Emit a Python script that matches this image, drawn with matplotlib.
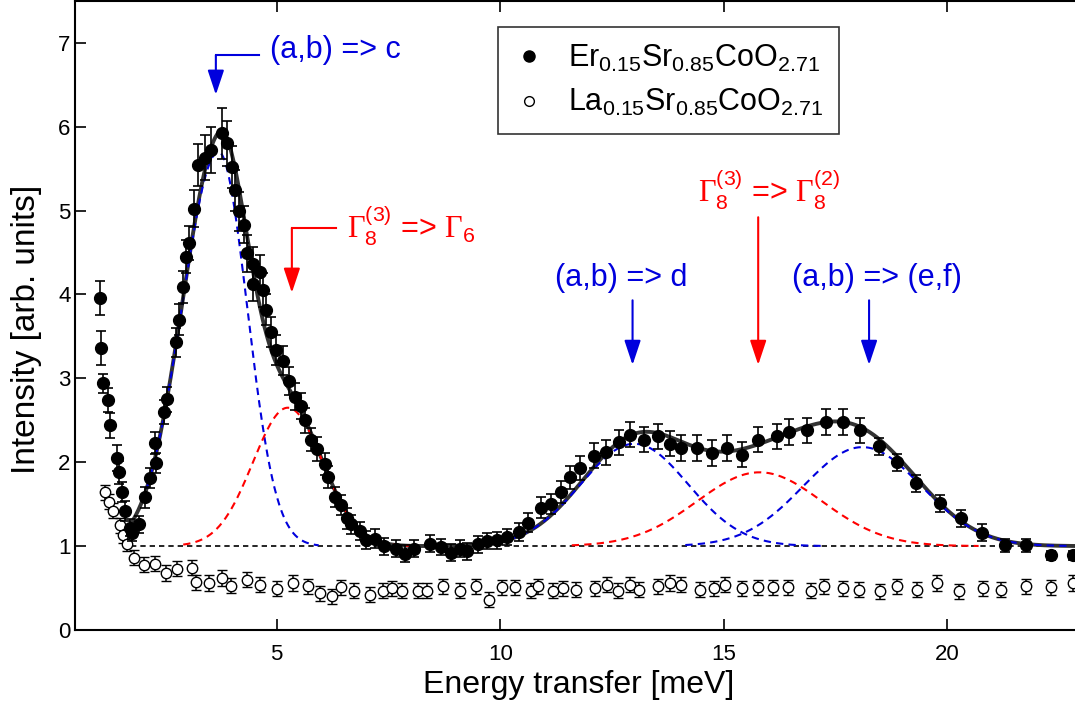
import numpy as np
import matplotlib
matplotlib.use("Agg")
import matplotlib.pyplot as plt
from matplotlib.lines import Line2D

plt.rcParams.update({
    'font.family': ['Liberation Sans', 'DejaVu Sans'],
    'mathtext.fontset': 'custom',
    'mathtext.rm': 'Liberation Serif',
    'mathtext.it': 'Liberation Serif:italic',
    'mathtext.bf': 'Liberation Serif:bold',
    'mathtext.sf': 'Liberation Sans',
})

# Er0.15Sr0.85CoO2.71 (filled symbols)
er_E = [1.05, 1.08, 1.12, 1.22, 1.27, 1.42, 1.48, 1.53, 1.61, 1.72, 1.76, 1.93,
        2.05, 2.16, 2.28, 2.31, 2.48, 2.55, 2.75, 2.81, 2.90, 2.98, 3.05, 3.14,
        3.25, 3.40, 3.53, 3.78, 3.88, 4.00, 4.06, 4.16, 4.26, 4.33, 4.47, 4.48,
        4.63, 4.69, 4.77, 4.87, 4.99, 5.15, 5.27, 5.41, 5.55, 5.64, 5.77, 5.90,
        6.08, 6.14, 6.30, 6.45, 6.58, 6.67, 6.87, 7.00, 7.21, 7.41, 7.67, 7.87,
        8.08, 8.42, 8.68, 8.90, 9.11, 9.26, 9.50, 9.70, 9.93, 10.15, 10.43, 10.63,
        10.91, 11.13, 11.37, 11.57, 11.79, 12.10, 12.36, 12.66, 12.91, 13.21, 13.53, 13.79,
        14.05, 14.40, 14.74, 15.08, 15.40, 15.77, 16.18, 16.46, 16.87, 17.29, 17.67, 18.05,
        18.48, 18.88, 19.29, 19.84, 20.31, 20.78, 21.30, 21.76, 22.32, 22.81]
er_I = [3.96, 3.36, 2.94, 2.74, 2.44, 2.05, 1.88, 1.65, 1.42, 1.22, 1.16, 1.26,
        1.58, 1.81, 2.23, 1.99, 2.60, 2.75, 3.43, 3.70, 4.09, 4.45, 4.61, 5.02,
        5.54, 5.63, 5.72, 5.92, 5.80, 5.52, 5.24, 4.99, 4.83, 4.49, 4.13, 4.36,
        4.27, 4.05, 3.82, 3.55, 3.34, 3.21, 2.97, 2.78, 2.67, 2.50, 2.27, 2.16,
        1.98, 1.82, 1.59, 1.49, 1.33, 1.26, 1.18, 1.07, 1.09, 1.00, 0.97, 0.91,
        0.97, 1.03, 0.99, 0.92, 0.97, 0.94, 1.02, 1.06, 1.07, 1.11, 1.17, 1.28,
        1.46, 1.50, 1.65, 1.82, 1.93, 2.08, 2.12, 2.24, 2.33, 2.27, 2.31, 2.22,
        2.17, 2.17, 2.11, 2.17, 2.09, 2.27, 2.31, 2.36, 2.38, 2.48, 2.48, 2.38,
        2.19, 2.00, 1.75, 1.51, 1.33, 1.16, 1.01, 1.01, 0.89, 0.89]
er_err = [0.20, 0.20, 0.11, 0.14, 0.15, 0.15, 0.14, 0.12, 0.12, 0.10, 0.10, 0.10,
          0.12, 0.12, 0.13, 0.12, 0.14, 0.15, 0.17, 0.18, 0.19, 0.20, 0.20, 0.22,
          0.25, 0.27, 0.27, 0.30, 0.27, 0.25, 0.24, 0.23, 0.22, 0.22, 0.21, 0.21,
          0.20, 0.20, 0.19, 0.18, 0.18, 0.17, 0.17, 0.16, 0.16, 0.15, 0.14, 0.14,
          0.13, 0.13, 0.12, 0.12, 0.12, 0.11, 0.11, 0.11, 0.11, 0.10, 0.10, 0.10,
          0.10, 0.10, 0.10, 0.10, 0.10, 0.10, 0.10, 0.10, 0.10, 0.10, 0.11, 0.11,
          0.12, 0.12, 0.13, 0.14, 0.14, 0.15, 0.15, 0.15, 0.15, 0.15, 0.15, 0.15,
          0.15, 0.15, 0.15, 0.15, 0.15, 0.15, 0.15, 0.15, 0.15, 0.15, 0.15, 0.15,
          0.10, 0.10, 0.10, 0.10, 0.10, 0.10, 0.08, 0.08, 0.05, 0.05]

# La0.15Sr0.85CoO2.71 (open symbols)
la_E = [1.16, 1.25, 1.35, 1.49, 1.57, 1.66, 1.80, 2.04, 2.28, 2.52, 2.76, 3.10,
        3.19, 3.49, 3.78, 3.98, 4.34, 4.63, 5.01, 5.36, 5.69, 5.96, 6.23, 6.43,
        6.72, 7.09, 7.37, 7.58, 7.80, 8.16, 8.37, 8.72, 9.11, 9.46, 9.76, 10.05,
        10.32, 10.68, 10.84, 11.17, 11.40, 11.70, 12.11, 12.38, 12.64, 12.91, 13.11, 13.53,
        13.79, 14.05, 14.46, 14.78, 15.02, 15.40, 15.77, 16.11, 16.44, 16.95, 17.24, 17.67,
        18.02, 18.50, 18.87, 19.33, 19.76, 20.26, 20.79, 21.20, 21.76, 22.32, 22.81]
la_I = [1.64, 1.53, 1.42, 1.25, 1.13, 1.03, 0.86, 0.78, 0.79, 0.68, 0.73, 0.74,
        0.57, 0.56, 0.62, 0.53, 0.60, 0.54, 0.49, 0.56, 0.52, 0.44, 0.40, 0.51,
        0.47, 0.42, 0.47, 0.50, 0.47, 0.47, 0.47, 0.52, 0.47, 0.52, 0.36, 0.51,
        0.51, 0.47, 0.52, 0.47, 0.50, 0.48, 0.50, 0.54, 0.47, 0.54, 0.48, 0.52,
        0.56, 0.54, 0.48, 0.50, 0.54, 0.50, 0.51, 0.51, 0.51, 0.47, 0.52, 0.50,
        0.48, 0.46, 0.52, 0.48, 0.56, 0.46, 0.50, 0.48, 0.52, 0.51, 0.56]
la_err = 0.09

# fit: flat background + peaks (center, amplitude, left/right width)
background = 1.0
peak_center = [3.70, 5.25, 13.0, 15.8, 18.1]
peak_amp = [4.70, 1.65, 1.22, 0.88, 1.18]
peak_wl = [0.82, 0.78, 1.20, 1.40, 1.32]
peak_wr = [0.64, 0.78, 1.20, 1.40, 1.32]
peak_color = ['#0000dd', '#ff0000', '#0000dd', '#ff0000', '#0000dd']
fit_start, fit_end = 1.75, 23.0


def peak(x, c, a, wl, wr):
    w = np.where(x < c, wl, wr)
    return a * np.exp(-(x - c) ** 2 / (2 * w ** 2))


def main():
    fig = plt.figure(figsize=(10.75, 7.06), dpi=100)
    ax = fig.add_axes([0.0702, 0.1076, 0.9358, 0.8913])

    x = np.linspace(fit_start, fit_end, 800)
    total = np.full_like(x, background)
    for c, a, wl, wr in zip(peak_center, peak_amp, peak_wl, peak_wr):
        total += peak(x, c, a, wl, wr)

    ax.plot([fit_start, fit_end], [background, background], color='k',
            lw=1.2, ls=(0, (3.2, 2.4)), zorder=1)
    ax.plot(x, total, color='#333333', lw=2.8, zorder=2)

    for c, a, wl, wr, col in zip(peak_center, peak_amp, peak_wl, peak_wr, peak_color):
        xs = np.linspace(max(c - 3.0 * wl, 2.0), min(c + 3.5 * wr, fit_end), 300)
        ax.plot(xs, background + peak(xs, c, a, wl, wr), color=col, lw=1.5,
                ls=(0, (3.5, 2.5)), zorder=3)

    ax.errorbar(la_E, la_I, yerr=la_err, fmt='o', ms=7.5, mfc='white', mec='k',
                mew=1.0, ecolor='k', elinewidth=1.1, capsize=3.5, capthick=1.1, zorder=4)
    ax.errorbar(er_E, er_I, yerr=er_err, fmt='o', ms=8.5, color='k',
                ecolor='k', elinewidth=1.2, capsize=3.5, capthick=1.2, zorder=5)

    # annotations
    blue, red = '#0000dd', '#ff0000'
    fs = 22
    aprops = dict(arrowstyle='-|>,head_length=0.75,head_width=0.25', lw=1.5,
                  shrinkA=0, shrinkB=0, mutation_scale=20)

    ax.plot([4.61, 3.64], [6.85, 6.85], color=blue, lw=1.5)
    ax.annotate('', xy=(3.64, 6.38), xytext=(3.64, 6.85),
                arrowprops=dict(color=blue, **aprops))
    ax.text(4.85, 6.91, '(a,b) => c', color=blue, fontsize=fs, va='center', ha='left')

    ax.plot([6.33, 5.34], [4.79, 4.79], color=red, lw=1.5)
    ax.annotate('', xy=(5.34, 4.02), xytext=(5.34, 4.79),
                arrowprops=dict(color=red, **aprops))
    ax.text(6.57, 4.67, r'$\Gamma_{\mathregular{8}}^{\mathregular{(3)}}$ => $\Gamma_{\mathregular{6}}$',
            color=red, fontsize=fs, va='baseline', ha='left')

    ax.text(12.71, 4.19, '(a,b) => d', color=blue, fontsize=fs, va='center', ha='center')
    ax.annotate('', xy=(12.96, 3.16), xytext=(12.96, 3.93),
                arrowprops=dict(color=blue, **aprops))

    ax.text(16.01, 5.10, r'$\Gamma_{\mathregular{8}}^{\mathregular{(3)}}$ => $\Gamma_{\mathregular{8}}^{\mathregular{(2)}}$',
            color=red, fontsize=fs, va='baseline', ha='center')
    ax.annotate('', xy=(15.77, 3.16), xytext=(15.77, 4.92),
                arrowprops=dict(color=red, **aprops))

    ax.text(18.42, 4.19, '(a,b) => (e,f)', color=blue, fontsize=fs, va='center', ha='center')
    ax.annotate('', xy=(18.25, 3.16), xytext=(18.25, 3.93),
                arrowprops=dict(color=blue, **aprops))

    handles = [Line2D([], [], marker='o', ls='none', color='k', ms=8),
               Line2D([], [], marker='o', ls='none', mfc='white', mec='k', mew=1.0, ms=7)]
    labels = [r'$\mathregular{Er_{0.15}Sr_{0.85}CoO_{2.71}}$',
              r'$\mathregular{La_{0.15}Sr_{0.85}CoO_{2.71}}$']
    leg = ax.legend(handles, labels, loc='upper left', bbox_to_anchor=(0.42, 0.958),
                    fontsize=22, frameon=True, fancybox=False, handlelength=1.0,
                    handletextpad=0.8, borderpad=0.5, borderaxespad=0,
                    labelspacing=0.45)
    leg.get_frame().set_edgecolor('k')
    leg.get_frame().set_linewidth(1.2)

    ax.set_xlim(0.5, 23.0)
    ax.set_ylim(0, 7.5)
    ax.set_xticks([5, 10, 15, 20])
    ax.set_yticks(range(0, 8))
    ax.tick_params(direction='in', length=8, width=1.2, labelsize=16, top=True, right=False)
    ax.tick_params(axis='x', pad=10)
    for s in ax.spines.values():
        s.set_linewidth(1.5)

    ax.set_xlabel('Energy transfer [meV]', fontsize=23)
    ax.set_ylabel('Intensity [arb. units]', fontsize=24)
    ax.yaxis.set_label_coords(-0.033, 0.478)

    fig.savefig('out.png', dpi=100)


if __name__ == '__main__':
    main()
